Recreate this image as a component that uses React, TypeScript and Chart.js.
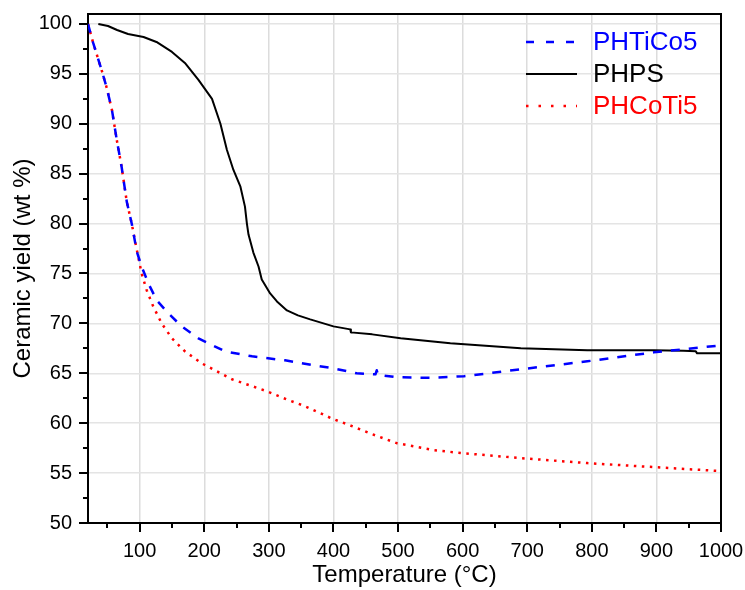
import React, { useEffect, useRef } from "react";
import { Chart, registerables } from "chart.js";

Chart.register(...registerables);

// ---- Data ----
const seriesNames = ["PHTiCo5", "PHPS", "PHCoTi5"];

const phticoTemp = [20, 28, 41, 49, 57, 64.5, 72, 80, 88, 95.5, 103, 113.5, 126.5, 144.5, 165, 191, 232, 274, 325, 369, 400, 436, 465, 467, 469, 498, 550, 602, 690, 793, 896, 1000];
const phticoYield = [100, 98.1, 95.4, 93.6, 91.4, 88.4, 85.7, 82.2, 79.9, 77.2, 75.7, 74.0, 72.3, 71.0, 69.7, 68.5, 67.2, 66.7, 66.3, 65.8, 65.5, 65.0, 64.9, 65.3, 64.85, 64.6, 64.55, 64.7, 65.4, 66.2, 67.1, 67.8];

const phpsTemp = [36, 51, 65, 82, 106, 126, 150, 170, 191, 212, 225, 235, 245, 256, 263, 266, 268.5, 276, 284, 289, 302, 312.5, 328, 345, 364, 400, 426, 427, 460, 504, 581, 690, 793, 896, 942, 961, 963, 1000];
const phpsYield = [100.0, 99.8, 99.4, 99.0, 98.7, 98.2, 97.2, 96.1, 94.4, 92.5, 90.0, 87.4, 85.4, 83.7, 81.7, 80.0, 78.9, 77.1, 75.7, 74.4, 73.0, 72.2, 71.3, 70.8, 70.4, 69.7, 69.4, 69.1, 68.9, 68.5, 68.0, 67.5, 67.3, 67.3, 67.25, 67.2, 67.0, 67.0];

const phcotiTemp = [20, 28, 41, 49, 57, 64.5, 72, 80, 88, 93, 103, 111, 121, 134, 150, 170, 196, 243, 297, 323, 356, 400, 421, 460, 498, 555, 600, 690, 793, 896, 1000];
const phcotiYield = [100, 98.1, 95.4, 93.6, 91.4, 88.4, 85.7, 82.2, 79.9, 78.2, 75.0, 73.3, 71.7, 70.0, 68.5, 67.2, 66.0, 64.4, 63.2, 62.5, 61.7, 60.4, 59.9, 58.9, 58.0, 57.3, 57.0, 56.5, 56.0, 55.6, 55.2];

const xTickValues = [50, 100, 150, 200, 250, 300, 350, 400, 450, 500, 550, 600, 650, 700, 750, 800, 850, 900, 950, 1000];
const yTickValues = [50, 52.5, 55, 57.5, 60, 62.5, 65, 67.5, 70, 72.5, 75, 77.5, 80, 82.5, 85, 87.5, 90, 92.5, 95, 97.5, 100];

const xTitle = "Temperature (°C)";
const yTitle = "Ceramic yield (wt %)";

const FONT = "'Liberation Sans', Arial, sans-serif";

const toPoints = (xs: number[], ys: number[]) => xs.map((x, i) => ({ x, y: ys[i] }));

const isMajorX = (v: number) => v % 100 === 0;
const isMajorY = (v: number) => v % 5 === 0;

const framePlugin = {
  id: "frameAndTicks",
  afterDraw(chart: any) {
    const { ctx, chartArea } = chart;
    const xs = chart.scales.x;
    const ys = chart.scales.y;
    ctx.save();
    ctx.strokeStyle = "#000";
    ctx.lineWidth = 2;
    ctx.setLineDash([]);
    // top and right frame
    ctx.beginPath();
    ctx.moveTo(chartArea.left, chartArea.top);
    ctx.lineTo(chartArea.right, chartArea.top);
    ctx.lineTo(chartArea.right, chartArea.bottom);
    ctx.stroke();
    // x ticks (outward)
    xs.ticks.forEach((t: any) => {
      const px = Math.round(xs.getPixelForValue(t.value));
      const len = isMajorX(t.value) ? 9 : 5;
      ctx.beginPath();
      ctx.moveTo(px, chartArea.bottom);
      ctx.lineTo(px, chartArea.bottom + len);
      ctx.stroke();
    });
    ys.ticks.forEach((t: any) => {
      const py = Math.round(ys.getPixelForValue(t.value));
      const len = isMajorY(t.value) ? 9 : 5;
      ctx.beginPath();
      ctx.moveTo(chartArea.left, py);
      ctx.lineTo(chartArea.left - len, py);
      ctx.stroke();
    });
    // legend
    const rows = [42, 74, 106];
    chart.data.datasets.forEach((ds: any, i: number) => {
      const y = rows[i];
      ctx.strokeStyle = ds.borderColor;
      ctx.lineWidth = ds.borderWidth;
      ctx.setLineDash(ds.legendDash || []);
      ctx.beginPath();
      ctx.moveTo(526, y);
      ctx.lineTo(577, y);
      ctx.stroke();
      ctx.setLineDash([]);
      ctx.fillStyle = ds.borderColor;
      ctx.font = `26px ${FONT}`;
      ctx.textBaseline = "middle";
      ctx.textAlign = "left";
      ctx.fillText(ds.label, 593, y + 1);
    });
    ctx.restore();
  },
};

export default function App() {
  const ref = useRef<HTMLCanvasElement>(null);
  useEffect(() => {
    document.body.style.margin = "0";
    const canvas = ref.current;
    if (!canvas) return;
    const chart = new Chart(canvas, {
      type: "line",
      data: {
        datasets: [
          {
            label: seriesNames[0],
            data: toPoints(phticoTemp, phticoYield),
            borderColor: "#0000ff",
            borderWidth: 2.5,
            borderDash: [9, 9],
            legendDash: [8, 12],
            borderJoinStyle: "round",
            pointRadius: 0,
            tension: 0,
            fill: false,
          } as any,
          {
            label: seriesNames[1],
            data: toPoints(phpsTemp, phpsYield),
            borderColor: "#000000",
            borderWidth: 2,
            borderJoinStyle: "round",
            pointRadius: 0,
            tension: 0,
            fill: false,
          } as any,
          {
            label: seriesNames[2],
            data: toPoints(phcotiTemp, phcotiYield),
            borderColor: "#ff0000",
            borderWidth: 2.5,
            borderDash: [2.5, 5.5],
            legendDash: [2.5, 10],
            borderJoinStyle: "round",
            pointRadius: 0,
            tension: 0,
            fill: false,
          } as any,
        ],
      },
      options: {
        responsive: false,
        animation: false,
        layout: { autoPadding: false, padding: { top: 14, right: 24, left: 0, bottom: 0 } },
        plugins: { legend: { display: false }, tooltip: { enabled: false } },
        scales: {
          x: {
            type: "linear",
            min: 20,
            max: 1000,
            afterBuildTicks: (s: any) => {
              s.ticks = xTickValues.map((v) => ({ value: v }));
            },
            afterFit: (s: any) => {
              s.height = 67;
            },
            ticks: {
              autoSkip: false,
              maxRotation: 0,
              padding: 0,
              color: "#000",
              font: { family: FONT, size: 20 },
              callback: (v: any) => (isMajorX(Number(v)) ? String(v) : ""),
            },
            grid: {
              drawTicks: true,
              tickLength: 16,
              tickColor: "rgba(0,0,0,0)",
              lineWidth: 1.5,
              color: (c: any) => (c.tick && isMajorX(c.tick.value) ? "#dcdcdc" : "rgba(0,0,0,0)"),
            },
            border: { color: "#000", width: 2 },
            title: {
              display: true,
              text: xTitle,
              color: "#000",
              font: { family: FONT, size: 24 },
              padding: { top: 0, bottom: 0 },
            },
          },
          y: {
            type: "linear",
            min: 50,
            max: 101,
            afterBuildTicks: (s: any) => {
              s.ticks = yTickValues.map((v) => ({ value: v }));
            },
            afterFit: (s: any) => {
              s.width = 88;
            },
            ticks: {
              autoSkip: false,
              padding: 0,
              color: "#000",
              font: { family: FONT, size: 20 },
              callback: (v: any) => (isMajorY(Number(v)) ? String(v) : ""),
            },
            grid: {
              drawTicks: true,
              tickLength: 16,
              tickColor: "rgba(0,0,0,0)",
              lineWidth: 1.5,
              color: (c: any) => (c.tick && isMajorY(c.tick.value) ? "#e4e4e4" : "rgba(0,0,0,0)"),
            },
            border: { color: "#000", width: 2 },
            title: {
              display: true,
              text: yTitle,
              color: "#000",
              font: { family: FONT, size: 24 },
              padding: { top: 9, bottom: 0 },
            },
          },
        },
      },
      plugins: [framePlugin],
    });
    return () => chart.destroy();
  }, []);
  return <canvas ref={ref} width={745} height={590} style={{ display: "block" }} />;
}
